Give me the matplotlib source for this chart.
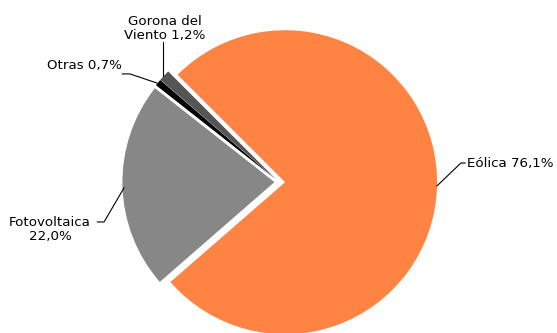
import matplotlib.pyplot as plt

# data
labels = ['Eólica', 'Fotovoltaica', 'Otras', 'Gorona del\nViento']
shares = [76.1, 22.0, 0.7, 1.2]
label_texts = ['Eólica 76,1%', 'Fotovoltaica\n22,0%', 'Otras 0,7%', 'Gorona del\nViento 1,2%']
colors = ['#FF8444', '#878787', '#000000', '#555555']
explode = [0.04, 0.03, 0.03, 0.03]

fig = plt.figure(figsize=(5.57, 3.33), dpi=100)
ax = fig.add_axes([0, 0, 1, 1])

wedges, _ = ax.pie(shares, colors=colors, explode=explode, startangle=135,
                   counterclock=False, radius=1.0,
                   wedgeprops=dict(linewidth=0))

# 1 unit = 152 px, pie centre at (279, 182) px from top-left
ax.set_xlim(-279 / 152, (557 - 279) / 152)
ax.set_ylim(-(333 - 182) / 152, 182 / 152)
ax.set_aspect('auto')
ax.axis('off')

fs = 9.6
lw = 0.8

# Eólica
ax.plot([1.039, 1.197, 1.225], [-0.026, 0.125, 0.125], color='black', lw=lw)
ax.text(1.237, 0.125, label_texts[0], ha='left', va='center', fontsize=fs)

# Fotovoltaica
ax.plot([-1.020, -1.151, -1.195], [-0.039, -0.263, -0.263], color='black', lw=lw)
ax.text(-1.507, -0.315, label_texts[1], ha='center', va='center', fontsize=fs,
        linespacing=1.1)

# Otras
ax.plot([-0.803, -0.980, -1.030], [0.651, 0.711, 0.711], color='black', lw=lw)
ax.text(-1.033, 0.765, label_texts[2], ha='right', va='center', fontsize=fs)

# Gorona del Viento
ax.plot([-0.763, -0.763], [0.697, 0.921], color='black', lw=lw)
ax.text(-0.750, 1.010, label_texts[3], ha='center', va='center', fontsize=fs,
        linespacing=1.1)

fig.savefig('out.png', dpi=100)
